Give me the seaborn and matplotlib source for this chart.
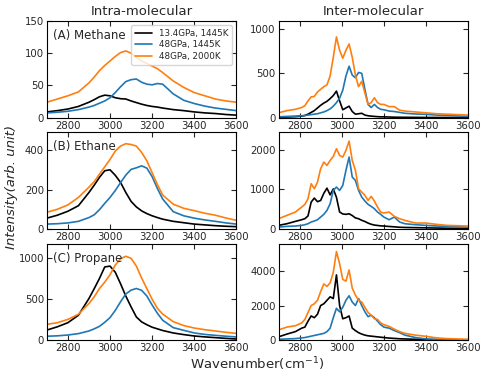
import seaborn as sns
import matplotlib.pyplot as plt

# wavenumber grids (cm^-1)
intra_wn = [2700, 2750, 2800, 2850, 2900, 2925, 2950, 2975, 3000, 3025,
            3050, 3075, 3100, 3125, 3150, 3175, 3200, 3225, 3250, 3300,
            3350, 3400, 3450, 3500, 3550, 3600]
inter_wn = [2700, 2740, 2780, 2810, 2825, 2840, 2855, 2870, 2885, 2900,
            2915, 2930, 2945, 2960, 2975, 2990, 3005, 3020, 3035, 3050,
            3065, 3080, 3095, 3110, 3125, 3140, 3155, 3170, 3185, 3200,
            3225, 3250, 3275, 3300, 3350, 3400, 3450, 3500, 3550, 3600]

labels = ["13.4GPa, 1445K", "48GPa, 1445K", "48GPa, 2000K"]
colors = ["black", "#1f77b4", "#ff7f0e"]

# Intra-molecular spectra
methane_intra_low = [9, 11, 13.5, 17.5, 24, 28, 32.5, 35, 34, 31,
                     29.5, 29, 26, 23.5, 21, 19, 17.5, 16.5, 15, 12.6,
                     11, 9, 7.5, 6.5, 5, 4]
methane_intra_mid = [7.5, 8.5, 10, 12.6, 16.5, 19, 22.5, 26, 31, 39,
                     48, 56, 59, 60, 55, 52, 51, 53, 52, 37,
                     27, 22, 18, 15, 13, 11]
methane_intra_high = [24, 29, 34, 40, 54, 63, 73, 81, 88, 95,
                      101, 103.5, 100, 94, 88, 84, 80, 76, 70, 57,
                      47, 39, 34, 29, 26, 24]

ethane_intra_low = [55, 70, 90, 118, 185, 222, 262, 295, 300, 272,
                    236, 185, 140, 112, 92, 78, 67, 58, 50, 39,
                    32, 25, 21, 17, 14, 12]
ethane_intra_mid = [25, 27, 31, 39, 58, 72, 98, 130, 160, 195,
                    235, 273, 302, 310, 320, 308, 265, 205, 152, 88,
                    67, 55, 46, 39, 31, 25]
ethane_intra_high = [85, 100, 122, 160, 212, 240, 278, 315, 352, 395,
                     420, 432, 428, 420, 388, 345, 285, 225, 172, 126,
                     105, 93, 80, 70, 56, 44]

propane_intra_low = [125, 165, 215, 306, 510, 630, 755, 895, 905, 830,
                     690, 540, 408, 285, 225, 190, 160, 140, 120, 90,
                     70, 53, 42, 33, 24, 16]
propane_intra_mid = [50, 55, 65, 82, 114, 140, 171, 220, 277, 365,
                     470, 565, 612, 632, 610, 540, 430, 330, 245, 155,
                     122, 90, 72, 61, 50, 41]
propane_intra_high = [195, 215, 255, 318, 449, 530, 632, 710, 800, 918,
                      995, 1025, 1000, 905, 760, 630, 500, 390, 320, 228,
                      180, 150, 130, 114, 98, 85]

# Inter-molecular spectra
methane_inter_low = [5, 8, 12, 18, 25, 40, 60, 80, 110, 140,
                     165, 185, 215, 250, 300, 190, 90, 110, 130, 70,
                     40, 45, 50, 30, 22, 18, 15, 12, 10, 10,
                     8, 6, 5, 5, 4, 3, 3, 2, 2, 2]
methane_inter_mid = [10, 15, 18, 22, 25, 30, 35, 40, 45, 55,
                     65, 80, 100, 130, 170, 220, 310, 470, 580, 480,
                     450, 510, 500, 320, 150, 115, 150, 115, 95, 90,
                     75, 70, 60, 50, 42, 38, 30, 25, 20, 15]
methane_inter_high = [55, 80, 95, 115, 135, 190, 235, 240, 290, 320,
                      350, 370, 470, 680, 910, 760, 670, 760, 830, 680,
                      480, 350, 410, 280, 150, 170, 225, 170, 150, 150,
                      125, 125, 85, 75, 65, 55, 45, 40, 35, 30]

ethane_inter_low = [92, 134, 193, 235, 260, 330, 680, 780, 690, 720,
                    900, 1030, 860, 1010, 800, 430, 380, 370, 385, 340,
                    280, 260, 220, 190, 150, 120, 100, 90, 80, 75,
                    65, 55, 45, 40, 35, 30, 25, 20, 18, 15]
ethane_inter_mid = [50, 67, 76, 92, 109, 134, 176, 202, 235, 302,
                    370, 470, 638, 974, 1058, 974, 1100, 1478, 1814, 1310,
                    1226, 974, 806, 706, 622, 571, 512, 428, 370, 302,
                    235, 302, 176, 134, 109, 92, 76, 67, 59, 50]
ethane_inter_high = [260, 344, 428, 554, 620, 764, 1142, 1016, 1184, 1520,
                     1688, 1604, 1730, 1831, 2024, 1856, 1814, 1982, 2218, 1730,
                     1478, 1016, 932, 848, 722, 823, 706, 554, 428, 403,
                     428, 319, 260, 218, 151, 151, 118, 92, 84, 76]

propane_inter_low = [200, 360, 500, 700, 760, 1100, 1400, 1300, 1500, 2000,
                     2100, 2300, 2500, 2400, 3760, 2000, 1240, 1300, 1400, 700,
                     560, 440, 360, 300, 260, 240, 220, 200, 180, 160,
                     130, 110, 90, 80, 60, 40, 35, 30, 25, 20]
propane_inter_mid = [60, 80, 100, 140, 160, 200, 240, 280, 320, 360,
                     400, 500, 700, 1300, 1840, 1640, 1900, 2300, 2560, 2200,
                     2000, 2400, 2000, 1640, 1360, 1440, 1300, 1100, 900, 760,
                     700, 560, 440, 300, 160, 80, 60, 40, 30, 30]
propane_inter_high = [600, 760, 840, 1000, 1200, 1600, 2000, 2100, 2300, 2800,
                      3240, 3100, 3300, 3900, 5100, 4400, 3500, 3400, 4040, 3000,
                      2600, 2300, 2200, 1900, 1600, 1440, 1240, 1200, 1000, 900,
                      800, 640, 500, 400, 300, 230, 140, 100, 80, 60]

panel_names = ["(A) Methane", "(B) Ethane", "(C) Propane"]

sns.set_style("ticks")
plt.rcParams["font.family"] = ["DejaVu Sans"]
plt.rcParams["xtick.direction"] = "in"
plt.rcParams["ytick.direction"] = "in"

fig, axes = plt.subplots(3, 2, figsize=(4.98, 3.74), dpi=100)
fig.subplots_adjust(left=0.094, right=0.940, top=0.944, bottom=0.090,
                    wspace=0.222, hspace=0.15)

panels = [
    (0, 0, intra_wn, [methane_intra_low, methane_intra_mid, methane_intra_high], 150, [0, 50, 100, 150]),
    (1, 0, intra_wn, [ethane_intra_low, ethane_intra_mid, ethane_intra_high], 490, [0, 200, 400]),
    (2, 0, intra_wn, [propane_intra_low, propane_intra_mid, propane_intra_high], 1180, [0, 500, 1000]),
    (0, 1, inter_wn, [methane_inter_low, methane_inter_mid, methane_inter_high], 1090, [0, 500, 1000]),
    (1, 1, inter_wn, [ethane_inter_low, ethane_inter_mid, ethane_inter_high], 2440, [0, 1000, 2000]),
    (2, 1, inter_wn, [propane_inter_low, propane_inter_mid, propane_inter_high], 5560, [0, 2000, 4000]),
]

for row, col, wn, series, ytop, yticks in panels:
    ax = axes[row, col]
    for vals, c, lab in zip(series, colors, labels):
        sns.lineplot(x=wn, y=vals, color=c, linewidth=1.2, label=lab, ax=ax)
    ax.set_xlim(2700, 3600)
    ax.set_ylim(0, ytop)
    ax.set_xticks([2800, 3000, 3200, 3400, 3600])
    ax.set_yticks(yticks)
    ax.tick_params(axis="both", which="both", top=True, right=True,
                   direction="in", length=3.5, width=0.8, labelsize=7.3, pad=2)
    for sp in ax.spines.values():
        sp.set_linewidth(0.8)
        sp.set_color("black")
    ax.set_xlabel("")
    ax.set_ylabel("")
    if row == 0 and col == 0:
        ax.legend(loc="upper right", fontsize=6.3, frameon=True,
                  handlelength=2.0, borderpad=0.4, labelspacing=0.3)
    else:
        ax.get_legend().remove()
    if col == 0:
        ax.text(0.03, 0.85, panel_names[row], transform=ax.transAxes,
                fontsize=8.5, ha="left", va="center")

axes[0, 0].set_title("Intra-molecular", fontsize=9.5, pad=4)
axes[0, 1].set_title("Inter-molecular", fontsize=9.5, pad=4)

fig.text(0.024, 0.5, "Intensity(arb. unit)", rotation=90, style="italic",
         ha="center", va="center", fontsize=9.5)
fig.text(0.517, 0.002, "Wavenumber(cm$^{-1}$)", ha="center", va="bottom",
         fontsize=9.5)

fig.savefig("out.png", dpi=100)
